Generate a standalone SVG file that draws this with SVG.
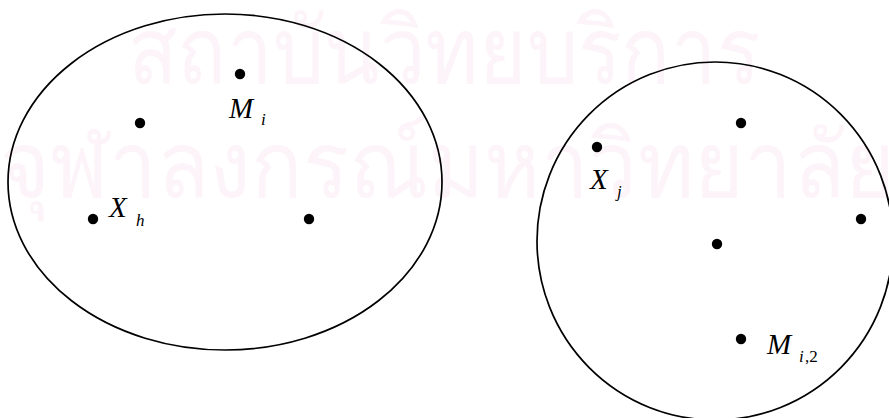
<svg xmlns="http://www.w3.org/2000/svg" width="889" height="418" viewBox="0 0 889 418">
<style>
.wm{fill:#fdf4f9;font-size:92px}
.shape{fill:none;stroke:#000;stroke-width:1.7}
.dot{fill:#000}
.lbl{font-style:italic;fill:#000;font-size:29px}
.sub{font-style:italic;fill:#000;font-size:17px}
.subn{fill:#000;font-size:17px}
</style>
<g id="watermark" font-family="Noto Sans, DejaVu Sans, sans-serif">
<text class="wm" x="128" y="83" textLength="632" lengthAdjust="spacingAndGlyphs">สถาบันวิทยบริการ</text>
<text class="wm" x="0" y="197" textLength="895" lengthAdjust="spacingAndGlyphs">จุฬาลงกรณ์มหาวิทยาลัย</text>
</g>
<g id="cluster1" font-family="Liberation Serif, Times New Roman, serif">
<ellipse class="shape" cx="225" cy="182" rx="217" ry="168"/>
<circle class="dot" cx="240" cy="74" r="5.2"/>
<circle class="dot" cx="140" cy="123" r="5.2"/>
<circle class="dot" cx="93" cy="219" r="5.2"/>
<circle class="dot" cx="309" cy="219" r="5.2"/>
<text class="lbl" x="229" y="118">M</text><text class="sub" x="261" y="125">i</text>
<text class="lbl" x="109" y="217">X</text><text class="sub" x="136" y="226">h</text>
</g>
<g id="cluster2" font-family="Liberation Serif, Times New Roman, serif">
<ellipse class="shape" cx="715" cy="241" rx="178" ry="179"/>
<circle class="dot" cx="741" cy="123" r="5.2"/>
<circle class="dot" cx="597" cy="147" r="5.2"/>
<circle class="dot" cx="861" cy="219" r="5.2"/>
<circle class="dot" cx="717" cy="244" r="5.2"/>
<circle class="dot" cx="741" cy="339" r="5.2"/>
<text class="lbl" x="590" y="189">X</text><text class="sub" x="617" y="197">j</text>
<text class="lbl" x="767" y="354">M</text><text class="sub" x="799" y="362">i</text><text class="subn" x="805" y="362">,2</text>
</g>
<g id="connectors"/>
</svg>
